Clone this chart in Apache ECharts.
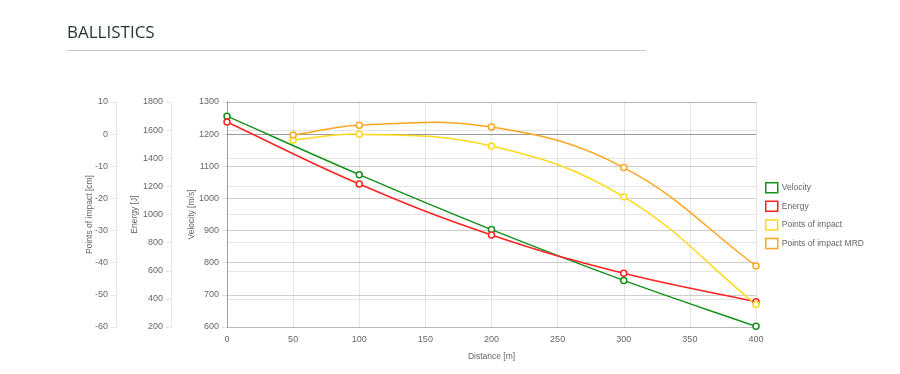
<!DOCTYPE html>
<html><head><meta charset="utf-8">
<script src="https://cdn.jsdelivr.net/npm/echarts@6/dist/echarts.min.js"></script>
<style>html,body{margin:0;padding:0;background:#fff}#c{width:900px;height:374px}</style>
</head><body><div id="c"></div>
<script>
const distances = [0, 100, 200, 300, 400];
const velocity = [1256, 1074, 903, 745, 602];
const energy = [1658, 1217, 854, 582, 380];
const poiDistances = [50, 100, 200, 300, 400];
const pointsOfImpact = [-1.8, 0, -3.7, -19.5, -53];
const pointsOfImpactMRD = [-0.3, 2.8, 2.2, -10.4, -41];
const seriesNames = ['Velocity', 'Energy', 'Points of impact', 'Points of impact MRD'];
const colors = ['#16901a', '#ff2222', '#ffd91a', '#ffa620'];

const pair = (xs, ys) => xs.map((x, i) => [x, ys[i]]);
const grid = 'rgba(0,0,0,0.1)';
const font = '"Liberation Sans", Arial, sans-serif';
const lbl = {color: '#666', fontSize: 9, fontFamily: font, formatter: v => String(v)};
const TENSION = 0.4;

function yAx(min, max, interval, offset, name, gap, lineColor) {
  return {
    type: 'value', position: 'left', offset, min, max, interval,
    name, nameLocation: 'middle', nameGap: gap, nameRotate: 90, nameMoveOverlap: false,
    nameTextStyle: {color: '#666', fontSize: 8.5, fontFamily: font},
    axisLine: {show: true, lineStyle: {color: lineColor, width: 1}},
    axisTick: {show: true, length: 5, lineStyle: {color: grid}},
    axisLabel: Object.assign({margin: 8}, lbl),
    splitLine: {show: true, lineStyle: {color: grid, width: 1}}
  };
}

// Chart.js-like spline (tension) drawn through ECharts' own coordinate conversion
function splinePath(pts) {
  const n = pts.length;
  const cps = pts.map((cur, i) => {
    const prev = pts[Math.max(0, i - 1)], next = pts[Math.min(n - 1, i + 1)];
    const d01 = Math.hypot(cur[0] - prev[0], cur[1] - prev[1]);
    const d12 = Math.hypot(next[0] - cur[0], next[1] - cur[1]);
    const sum = d01 + d12 || 1;
    const fa = TENSION * d01 / sum, fb = TENSION * d12 / sum;
    return {
      p: [cur[0] - fa * (next[0] - prev[0]), cur[1] - fa * (next[1] - prev[1])],
      n: [cur[0] + fb * (next[0] - prev[0]), cur[1] + fb * (next[1] - prev[1])]
    };
  });
  let d = 'M' + pts[0][0] + ' ' + pts[0][1];
  for (let i = 1; i < n; i++) {
    const a = cps[i - 1].n, b = cps[i].p;
    d += ' C' + a[0] + ' ' + a[1] + ' ' + b[0] + ' ' + b[1] + ' ' + pts[i][0] + ' ' + pts[i][1];
  }
  return d;
}

function curveSeries(name, data, yi, color) {
  return {
    name, type: 'custom', yAxisIndex: yi, data, z: 2, silent: true,
    encode: {x: 0, y: 1},
    renderItem(params, api) {
      if (params.dataIndex !== 0) return null;
      const pts = data.map(p => api.coord(p));
      return {type: 'path', shape: {pathData: splinePath(pts)},
        style: {stroke: color, fill: 'none', lineWidth: 1.5}};
    }
  };
}
function pointSeries(name, data, yi, color) {
  return {
    name, type: 'line', data, yAxisIndex: yi, z: 3,
    symbol: 'circle', symbolSize: 6, showSymbol: true,
    lineStyle: {width: 0, opacity: 0},
    itemStyle: {color: '#fff', borderColor: color, borderWidth: 1.5},
    emphasis: {disabled: true}, clip: false
  };
}

const sets = [
  pair(distances, velocity), pair(distances, energy),
  pair(poiDistances, pointsOfImpact), pair(poiDistances, pointsOfImpactMRD)
];
const axisIdx = [0, 1, 2, 2];
const series = [];
sets.forEach((d, i) => series.push(curveSeries(seriesNames[i], d, axisIdx[i], colors[i])));
sets.forEach((d, i) => series.push(pointSeries(seriesNames[i], d, axisIdx[i], colors[i])));

const chart = echarts.init(document.getElementById('c'), null, {renderer: 'canvas'});
chart.setOption({
  animation: false,
  backgroundColor: '#fff',
  graphic: [
    {type: 'text', left: 67, top: 25, style: {text: 'BALLISTICS', fontSize: 17, fontFamily: '"Open Sans", sans-serif', fill: '#1e3530'}},
    {type: 'line', shape: {x1: 67, y1: 50.5, x2: 646, y2: 50.5}, style: {stroke: '#c8c8c8', lineWidth: 1}}
  ],
  grid: {left: 227, right: 144, top: 102, bottom: 47},
  legend: {
    orient: 'vertical', left: 765, top: 182, padding: 0, itemGap: 7.1, itemWidth: 12, itemHeight: 10, icon: 'rect',
    textStyle: {color: '#666', fontSize: 8.5, fontFamily: font, padding: [0, 0, 0, -1]},
    data: seriesNames.map((n, i) => ({name: n, itemStyle: {color: '#fff', borderColor: colors[i], borderWidth: 1.5}}))
  },
  xAxis: {
    type: 'value', min: 0, max: 400, interval: 50,
    name: 'Distance [m]', nameLocation: 'middle', nameGap: 25, nameMoveOverlap: false,
    nameTextStyle: {color: '#666', fontSize: 8.5, fontFamily: font},
    axisLine: {show: true, lineStyle: {color: 'rgba(0,0,0,0.25)'}},
    axisTick: {show: false},
    axisLabel: Object.assign({margin: 8}, lbl),
    splitLine: {show: true, lineStyle: {color: grid}}
  },
  yAxis: [
    yAx(600, 1300, 100, 0, 'Velocity [m/s]', 31, 'rgba(0,0,0,0.3)'),
    yAx(200, 1800, 200, 56, 'Energy [J]', 32, grid),
    yAx(-60, 10, 10, 111, 'Points of impact [cm]', 22, grid)
  ],
  series
});
</script></body></html>
